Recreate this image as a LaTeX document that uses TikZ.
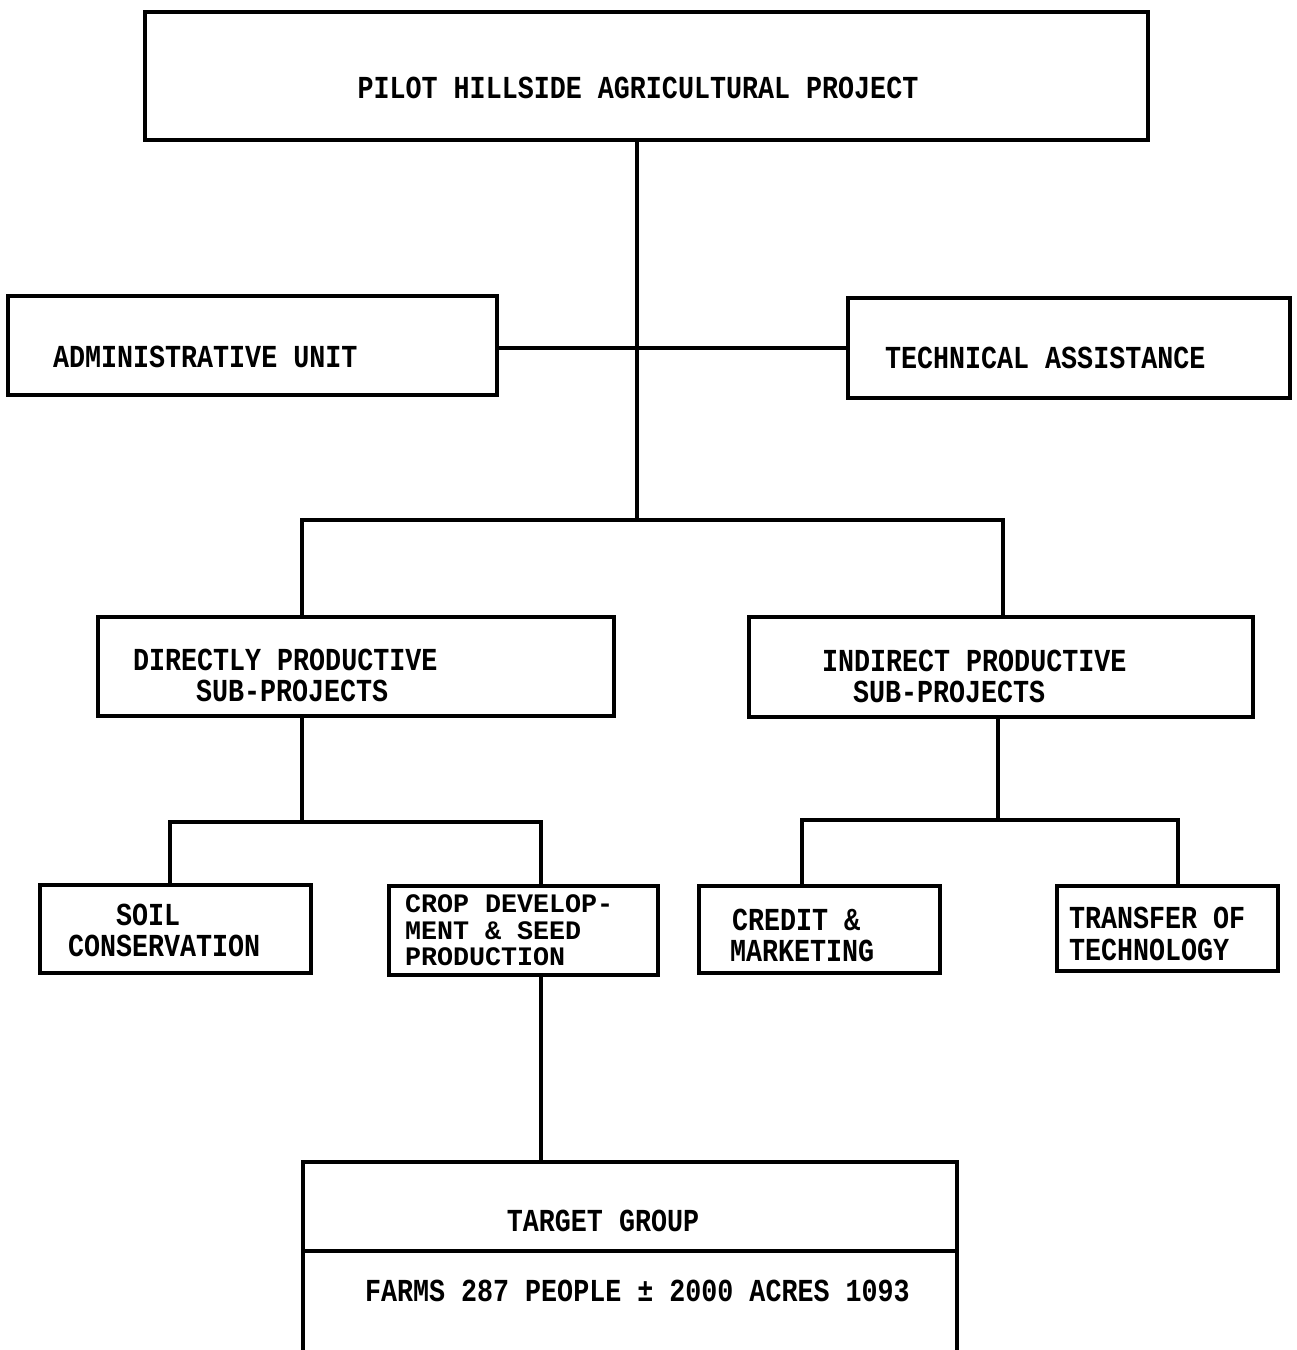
\documentclass[tikz,border=0pt]{standalone}
\usepackage{graphicx}
\usepackage{fontspec}
\newfontfamily\twfont{Liberation Mono}
\newcommand\twtext[1]{\scalebox{1}[1.2]{#1}}
\tikzset{
  box/.style={draw=black, line width=3.8pt, rectangle, inner sep=0pt, outer sep=0pt, anchor=north west},
  lbl/.style={inner sep=0pt, outer sep=0pt, anchor=base west, font=\twfont\bfseries\fontsize{26.7pt}{30pt}\selectfont},
  lblc/.style={lbl, anchor=base},
  conn/.style={draw=black, line width=3.8pt, line cap=rect}
}
\begin{document}
\begin{tikzpicture}[x=1pt,y=-1pt]
\useasboundingbox (0,0) rectangle (1297,1350);
% boxes
\node[box, minimum width=1003pt, minimum height=128pt] (top) at (145,12) {};
\node[box, minimum width=489pt, minimum height=99pt] (adm) at (8,296) {};
\node[box, minimum width=442pt, minimum height=100pt] (tech) at (848,298) {};
\node[box, minimum width=516pt, minimum height=99pt] (dp) at (98,617) {};
\node[box, minimum width=504pt, minimum height=100pt] (ip) at (749,617) {};
\node[box, minimum width=271pt, minimum height=88pt] (soil) at (40,885) {};
\node[box, minimum width=269pt, minimum height=89pt] (crop) at (389,886) {};
\node[box, minimum width=241pt, minimum height=87pt] (cred) at (699,886) {};
\node[box, minimum width=221pt, minimum height=85pt] (trans) at (1057,886) {};
\node[box, minimum width=654pt, minimum height=205pt] (target) at (303,1162) {};
% junction coordinates
\coordinate (jtop) at (637,520);
\coordinate (jmid) at (637,348);
\coordinate (jdl) at (302,520);
\coordinate (jdr) at (1003,520);
\coordinate (jdp) at (302,822);
\coordinate (jsoil) at (170,822);
\coordinate (jcrop) at (541,822);
\coordinate (jip) at (998,820);
\coordinate (jcred) at (802,820);
\coordinate (jtrans) at (1178,820);
\coordinate (jtg) at (541,1162);
\coordinate (jdiv) at (0,1251);
% connectors
\draw[conn] (top.south -| jtop) -- (jtop);
\draw[conn] (adm.east |- jmid) -- (tech.west |- jmid);
\draw[conn] (dp.north -| jdl) -- (jdl) -- (jdr) -- (ip.north -| jdr);
\draw[conn] (dp.south -| jdp) -- (jdp);
\draw[conn] (soil.north -| jsoil) -- (jsoil) -- (jcrop) -- (crop.north -| jcrop);
\draw[conn] (ip.south -| jip) -- (jip);
\draw[conn] (cred.north -| jcred) -- (jcred) -- (jtrans) -- (trans.north -| jtrans);
\draw[conn] (crop.south -| jtg) -- (jtg);
\draw[conn] (target.west |- jdiv) -- (target.east |- jdiv);
% labels
\node[lblc] (ttop) at (638,98) {\twtext{PILOT HILLSIDE AGRICULTURAL PROJECT}};
\node[lbl] (tadm) at (53,367) {\twtext{ADMINISTRATIVE UNIT}};
\node[lbl] (ttech) at (885,368) {\twtext{TECHNICAL ASSISTANCE}};
\node[lbl] (tdp1) at (133,670) {\twtext{DIRECTLY PRODUCTIVE}};
\node[lbl] (tdp2) at (196,701) {\twtext{SUB-PROJECTS}};
\node[lbl] (tip1) at (822,671) {\twtext{INDIRECT PRODUCTIVE}};
\node[lbl] (tip2) at (853,702) {\twtext{SUB-PROJECTS}};
\node[lbl] (tsoil1) at (116,925) {\twtext{SOIL}};
\node[lbl] (tsoil2) at (68,956) {\twtext{CONSERVATION}};
\node[lbl] (tcrop1) at (405,912) {CROP DEVELOP-};
\node[lbl] (tcrop2) at (405,939) {MENT \& SEED};
\node[lbl] (tcrop3) at (405,965) {PRODUCTION};
\node[lbl] (tcred1) at (732,930) {\twtext{CREDIT \&}};
\node[lbl] (tcred2) at (730,961) {\twtext{MARKETING}};
\node[lbl] (ttrans1) at (1069,928) {\twtext{TRANSFER OF}};
\node[lbl] (ttrans2) at (1069,960) {\twtext{TECHNOLOGY}};
\node[lblc] (ttg) at (603,1231) {\twtext{TARGET GROUP}};
\node[lbl] (tfarms) at (365,1301) {\twtext{FARMS 287 PEOPLE ± 2000 ACRES 1093}};
\end{tikzpicture}
\end{document}
